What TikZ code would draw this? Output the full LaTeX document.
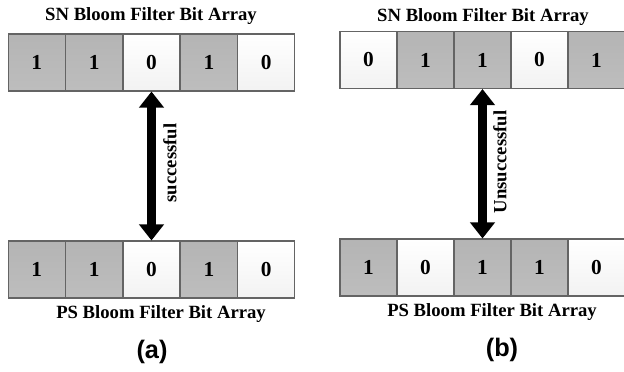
\documentclass[tikz,border=0pt]{standalone}
\usepackage{fontspec}
\setmainfont{Liberation Serif}
\newfontfamily\capsans{Liberation Sans}
\usetikzlibrary{arrows.meta, positioning}

\definecolor{bitgray}{RGB}{172,172,172}
\definecolor{bitedge}{RGB}{100,100,100}

\tikzset{
    bitcell/.style={draw=bitedge, line width=0.8pt, minimum width=42.75pt,
        minimum height=42.75pt, inner sep=0pt, font=\fontsize{16}{18}\selectfont\bfseries},
    bit1/.style={bitcell, top color=bitgray!90, bottom color=bitgray!110!black},
    bit0/.style={bitcell, top color=white, bottom color=black!5},
    arraylabel/.style={font=\fontsize{14}{16}\selectfont\bfseries},
    caplabel/.style={font=\capsans\fontsize{19}{22}\selectfont\bfseries},
    matchtext/.style={font=\fontsize{14}{16}\selectfont\bfseries, rotate=90},
    bitarrow/.style={line width=6.4pt, {Triangle[width=18pt, length=12pt]}-{Triangle[width=18pt, length=12pt]}}
}

\begin{document}
\begin{tikzpicture}[x=0.75pt, y=-0.75pt]
    \useasboundingbox (0,0) rectangle (624,371);

    % (a) successful
    \foreach \b [count=\i] in {1,1,0,1,0}
        \node[bit\b] (snA\i) at ({8+57.4*(\i-0.5)}, 62.5) {\b};
    \foreach \b [count=\i] in {1,1,0,1,0}
        \node[bit\b] (psA\i) at ({8+57.4*(\i-0.5)}, 269.5) {\b};

    \node[arraylabel] (snLabA) at (151, 16) {SN Bloom Filter Bit Array};
    \node[arraylabel] (psLabA) at (161, 314) {PS Bloom Filter Bit Array};
    \node[caplabel] (capA) at (152, 352) {(a)};

    \draw[bitarrow] (snA3.south) -- (psA3.north);
    \node[matchtext] (okA) at (170, 163) {successful};

    % (b) unsuccessful
    \foreach \b [count=\i] in {0,1,1,0,1}
        \node[bit\b] (snB\i) at ({340+57*(\i-0.5)}, 60) {\b};
    \foreach \b [count=\i] in {1,0,1,1,0}
        \node[bit\b] (psB\i) at ({340+57*(\i-0.5)}, 267.5) {\b};

    \node[arraylabel] (snLabB) at (483, 17) {SN Bloom Filter Bit Array};
    \node[arraylabel] (psLabB) at (492, 312) {PS Bloom Filter Bit Array};
    \node[caplabel] (capB) at (502, 350) {(b)};

    \draw[bitarrow] (snB3.south) -- (psB3.north);
    \node[matchtext] (failB) at (500, 162) {Unsuccessful};
\end{tikzpicture}
\end{document}
